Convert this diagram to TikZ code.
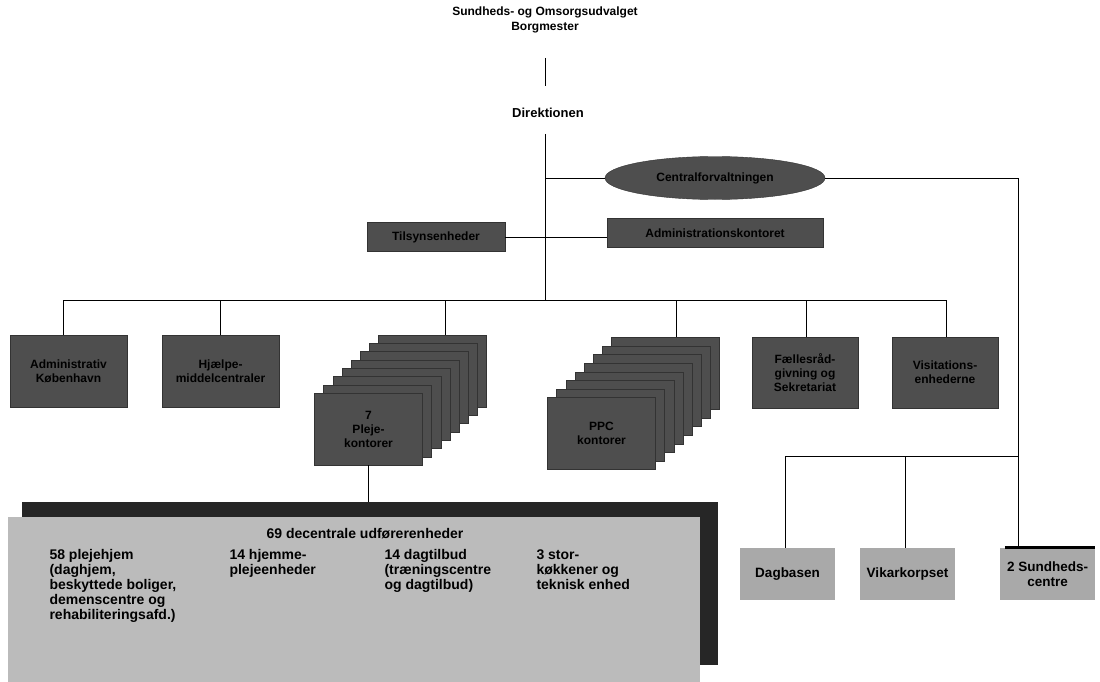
\documentclass[tikz,border=0pt]{standalone}
\usepackage{fontspec}
\setmainfont{Liberation Sans}
\usetikzlibrary{positioning, shapes.geometric, calc}
\definecolor{darkfill}{HTML}{4E4E4E}
\definecolor{lightfill}{HTML}{BBBBBB}
\definecolor{midfill}{HTML}{A9A9A9}
\tikzset{
    orgline/.style={thick},
    every node/.style={font=\bfseries\fontsize{12}{14}\selectfont}
}

\begin{document}
\begin{tikzpicture}[
    x=1pt,y=-1pt,
    darkbox/.style={
        draw=black!80,
        fill=darkfill,
        minimum width=108pt,
        minimum height=72pt,
        align=center
    },
    stripbox/.style={
        draw=black!80,
        fill=darkfill,
        minimum height=29pt,
        align=center
    },
    greybox/.style={
        fill=midfill,
        minimum width=95pt,
        minimum height=52pt,
        align=center,
        font=\bfseries\fontsize{13.5}{15}\selectfont
    },
    coltext/.style={anchor=north west, align=left, font=\bfseries\fontsize{14}{15}\selectfont}
]
\useasboundingbox (0,0) rectangle (1100,682);

% top of the chart
\node[align=center, font=\bfseries\fontsize{12}{15}\selectfont] (udvalg) at (545,20) {Sundheds- og Omsorgsudvalget\\Borgmester};
\node[font=\bfseries\fontsize{13}{15}\selectfont] (direktion) at (548,113) {Direktionen};
\coordinate (hub) at (545,300);
\coordinate (top1) at (545,58);
\coordinate (top2) at (545,86);
\coordinate (top3) at (545,134);

\draw[orgline] (top1) -- (top2);
\draw[orgline] (top3) -- (hub);

% staff functions
\node[ellipse, draw=black!80, fill=darkfill, minimum width=220pt, minimum height=43pt] (central) at (715,178) {Centralforvaltningen};
\node[stripbox, minimum width=138pt] (tilsyn) at (436,237) {Tilsynsenheder};
\node[stripbox, minimum width=216pt] (adm) at (715,233) {Administrationskontoret};

\draw[orgline] (central.west -| hub) -- (central.west);
\draw[orgline] (tilsyn) -- (tilsyn -| adm.west);

% middle row
\coordinate (barL) at (63,300);
\coordinate (barR) at (946,300);
\coordinate (drop2) at (220,300);
\coordinate (drop3) at (445,300);
\coordinate (drop4) at (676,300);
\coordinate (drop5) at (806,300);
\draw[orgline] (barL) -- (barR);

\node[darkbox, minimum width=117pt] (admkbh) at (68.5,371) {Administrativ\\København};
\node[darkbox, minimum width=117pt] (hjaelp) at (220.5,371) {Hjælpe-\\middelcentraler};
\node[darkbox, minimum width=106pt, minimum height=71pt] (faelles) at (805,372.5) {Fællesråd-\\givning og\\Sekretariat};
\node[darkbox, minimum width=106pt, minimum height=71pt] (visit) at (945,372.5) {Visitations-\\enhederne};

% stacks of offices, back to front
\foreach \i in {7,...,1}
    \node[darkbox] (pleje-\i) at ({368.5+9.1*\i},{429-8.3*\i}) {};
\node[darkbox] (pleje-0) at (368.5,429) {7\\Pleje-\\kontorer};

\foreach \i in {7,...,1}
    \node[darkbox] (ppc-\i) at ({601.5+9.1*\i},{433.5-8.6*\i}) {};
\node[darkbox] (ppc-0) at (601.5,433.5) {PPC\\kontorer};

\draw[orgline] (barL) -- (barL |- admkbh.north);
\draw[orgline] (drop2) -- (drop2 |- hjaelp.north);
\draw[orgline] (drop3) -- (drop3 |- pleje-7.north);
\draw[orgline] (drop4) -- (drop4 |- ppc-7.north);
\draw[orgline] (drop5) -- (drop5 |- faelles.north);
\draw[orgline] (barR) -- (barR |- visit.north);

% decentral units
\node[fill=black!85, minimum width=696pt, minimum height=163pt] (skygge) at (370,583.5) {};
\node[fill=lightfill, minimum width=692pt, minimum height=165pt] (udfoer) at (354,599.5) {};
\node[font=\bfseries\fontsize{14}{15}\selectfont] (decentral) at (365,534) {69 decentrale udførerenheder};
\node[coltext] (plejehjem) at (46,546) {58 plejehjem\\(daghjem,\\beskyttede boliger,\\demenscentre og\\rehabiliteringsafd.)};
\node[coltext] (hjemme) at (226,546) {14 hjemme-\\plejeenheder};
\node[coltext] (dagtilbud) at (381,546) {14 dagtilbud\\(træningscentre\\og dagtilbud)};
\node[coltext] (koekken) at (533,546) {3 stor-\\køkkener og\\teknisk enhed};

\draw[orgline] (pleje-0.south) -- (pleje-0.south |- skygge.north);

% right branch
\coordinate (hjoerne) at (1018,178);
\coordinate (lavR) at (1018,456);
\coordinate (lavM) at (905,456);
\coordinate (lavL) at (785,456);
\draw[orgline] (central.east) -- (hjoerne) -- (lavR) -- (lavL);

\node[greybox] (dagbasen) at (787.5,574) {Dagbasen};
\node[greybox] (vikar) at (907.5,574) {Vikarkorpset};
\node[greybox] (sundhed) at (1047.5,574) {2 Sundheds-\\centre};
\draw[line width=3pt] ($(sundhed.north west)+(5,0)$) -- (sundhed.north east);

\draw[orgline] (lavL) -- (lavL |- dagbasen.north);
\draw[orgline] (lavM) -- (lavM |- vikar.north);
\draw[orgline] (lavR) -- (lavR |- sundhed.north);

\end{tikzpicture}
\end{document}
